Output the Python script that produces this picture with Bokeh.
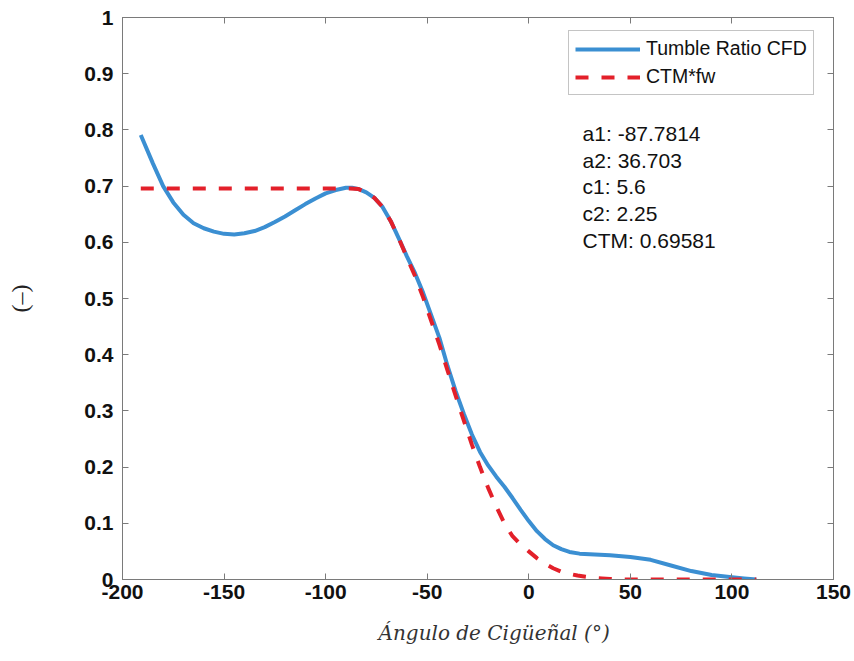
from bokeh.plotting import figure
from bokeh.models import (Range1d, FixedTicker, LinearAxis, CustomJSTickFormatter,
                          Legend, LegendItem, Label, Title)
from bokeh.embed import file_html
from bokeh.resources import INLINE

# ---- data ----
angle_cfd = [-191, -185, -180, -175, -170, -165, -160, -155, -150, -145, -140, -135,
             -130, -125, -120, -115, -110, -105, -100, -95, -90, -87, -84, -80, -76,
             -72, -68, -64, -60, -56, -52, -48, -44, -40, -36, -32, -28, -24, -20,
             -16, -12, -8, -4, 0, 4, 8, 12, 16, 20, 25, 30, 40, 50, 60, 70, 80, 90,
             100, 106, 112]
tumble_cfd = [0.791, 0.740, 0.700, 0.671, 0.649, 0.634, 0.625, 0.619, 0.615, 0.614,
              0.616, 0.620, 0.627, 0.636, 0.646, 0.657, 0.668, 0.678, 0.687, 0.693,
              0.697, 0.697, 0.695, 0.689, 0.679, 0.663, 0.638, 0.607, 0.575, 0.545,
              0.510, 0.470, 0.430, 0.380, 0.335, 0.295, 0.258, 0.227, 0.203, 0.183,
              0.165, 0.145, 0.124, 0.104, 0.086, 0.072, 0.061, 0.054, 0.049, 0.046,
              0.045, 0.043, 0.040, 0.035, 0.025, 0.015, 0.008, 0.004, 0.002, 0.0]

angle_fit = [-191, -88, -84, -80, -76, -72, -68, -64, -60, -56, -52, -48, -44, -40,
             -36, -32, -28, -24, -20, -16, -12, -8, -4, 0, 4, 8, 12, 16, 20, 24, 28,
             32, 36, 40, 45, 60, 80, 100, 112]
ctm_fw = [0.6958, 0.6958, 0.695, 0.689, 0.679, 0.663, 0.638, 0.607, 0.573, 0.540,
          0.502, 0.460, 0.418, 0.372, 0.327, 0.283, 0.240, 0.200, 0.163, 0.130, 0.100,
          0.077, 0.062, 0.050, 0.038, 0.028, 0.020, 0.014, 0.010, 0.007, 0.005, 0.003,
          0.002, 0.001, 0.0, 0.0, 0.0, 0.0, 0.0]

series_names = ["Tumble Ratio CFD", "CTM*fw"]
x_ticks = [-200, -150, -100, -50, 0, 50, 100, 150]
y_ticks = [0, 0.1, 0.2, 0.3, 0.4, 0.5, 0.6, 0.7, 0.8, 0.9, 1]
param_names = ["a1", "a2", "c1", "c2", "CTM"]
param_values = ["-87.7814", "36.703", "5.6", "2.25", "0.69581"]
x_title = "Ángulo de Cigüeñal (°)"
y_title = "(–)"

# ---- styling ----
AX = "#7a7a7a"
BLUE = "#3b8fd2"
RED = "#e3202a"
TICK_FONT = "Liberation Sans"

p = figure(width=854, height=661, x_range=Range1d(-200, 150), y_range=Range1d(0, 1),
           output_backend="svg", toolbar_location=None,
           min_border_left=122, min_border_right=21, min_border_top=17,
           min_border_bottom=82)
p.grid.visible = False
p.outline_line_color = AX
p.outline_line_width = 1
p.background_fill_color = "white"
p.border_fill_color = "white"


def style_axis(ax, ticks, show_labels):
    ax.ticker = FixedTicker(ticks=ticks)
    ax.major_tick_in = 6
    ax.major_tick_out = 0
    ax.minor_tick_line_color = None
    ax.axis_line_color = AX
    ax.major_tick_line_color = AX
    if show_labels:
        ax.formatter = CustomJSTickFormatter(code="return tick.toString()")
        ax.major_label_text_font = TICK_FONT
        ax.major_label_text_font_style = "bold"
        ax.major_label_text_font_size = "21px"
        ax.major_label_text_color = "#111111"
    else:
        ax.formatter = CustomJSTickFormatter(code="return ''")
        ax.major_label_text_font_size = "0px"
        ax.major_label_standoff = 0


xa = p.xaxis[0]
style_axis(xa, x_ticks, True)
xa.major_label_standoff = 5

ya = p.yaxis[0]
style_axis(ya, y_ticks, True)
ya.major_label_standoff = 9
ya.axis_label = y_title
ya.axis_label_text_font = "Liberation Serif"
ya.axis_label_text_font_style = "normal"
ya.axis_label_text_font_size = "24px"
ya.axis_label_text_color = "#222222"
ya.axis_label_standoff = 48

top = LinearAxis()
style_axis(top, x_ticks, False)
p.add_layout(top, "above")
right = LinearAxis()
style_axis(right, y_ticks, False)
p.add_layout(right, "right")

r1 = p.line(angle_cfd, tumble_cfd, line_color=BLUE, line_width=4, line_join="round")
r2 = p.line(angle_fit, ctm_fw, line_color=RED, line_width=4, line_dash="13 13")

legend = Legend(items=[LegendItem(label=series_names[0], renderers=[r1]),
                       LegendItem(label=series_names[1], renderers=[r2])],
                location=(446, 484))
legend.border_line_color = "#8a8a8a"
legend.border_line_width = 1
legend.background_fill_color = "white"
legend.background_fill_alpha = 1
legend.padding = 6
legend.spacing = 5
legend.margin = 0
legend.glyph_width = 65
legend.glyph_height = 20
legend.label_standoff = 6
legend.label_text_font = TICK_FONT
legend.label_text_font_size = "19.5px"
legend.label_text_color = "#111111"
p.add_layout(legend)

for i, (name, val) in enumerate(zip(param_names, param_values)):
    p.add_layout(Label(x=26.5, y=0.7936 - i * 0.0476, x_units="data", y_units="data",
                       text=f"{name}: {val}", text_font=TICK_FONT,
                       text_font_size="21px", text_color="#111111",
                       text_baseline="middle", text_align="left"))

# x-axis title as a title below the axis (slightly right of centre as in the original)
xt = Title(text=x_title, align="left", offset=256, standoff=34,
           text_font="DejaVu Serif", text_font_style="italic",
           text_font_size="20px", text_color="#333333")
p.add_layout(xt, "below")

open("out.html", "w").write(file_html(p, INLINE))
